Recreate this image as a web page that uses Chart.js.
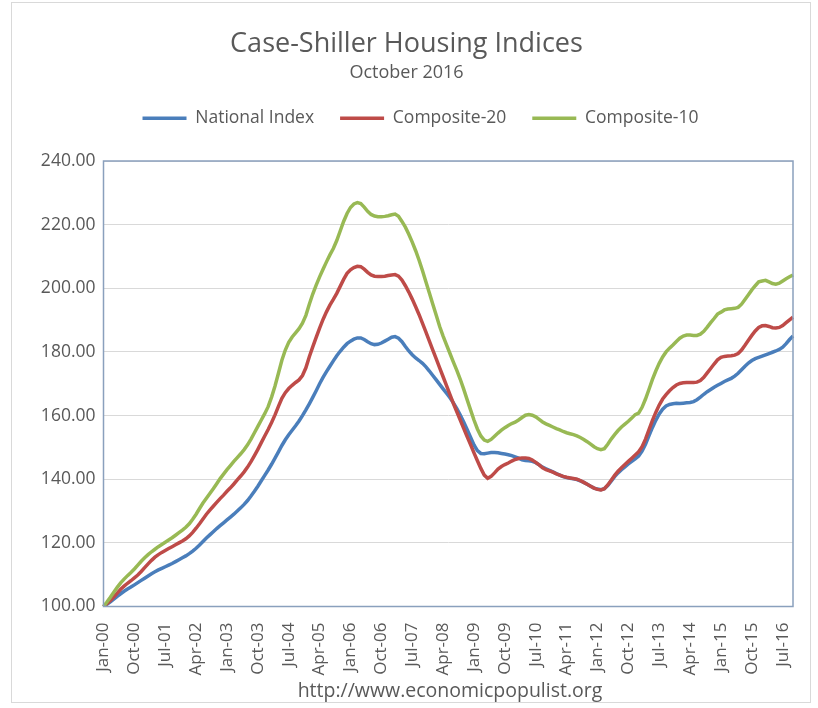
<!DOCTYPE html>
<html>
<head>
<meta charset="utf-8">
<script src="https://cdn.jsdelivr.net/npm/chart.js@4.4.1/dist/chart.umd.min.js"></script>
<style>
    body { margin: 0; background: #fff; }
    #wrap { position: relative; width: 818px; height: 708px; }
    #frame { position: absolute; left: 11px; top: 2px; width: 800px; height: 701px; border: 1px solid #d9d9d9; box-sizing: border-box; }
    #source { position: absolute; left: 250px; width: 400px; top: 680px; line-height: 20px; text-align: center;
              font-family: 'Open Sans', sans-serif; font-size: 19.5px; color: #595959; }
</style>
</head>
<body>
<div id="wrap">
    <div id="frame"></div>
    <canvas id="chart" width="818" height="708"></canvas>
    <div id="source">http://www.economicpopulist.org</div>
</div>
<script>
// monthly, Jan-00 .. Oct-16
const monthNames = ["Jan", "Feb", "Mar", "Apr", "May", "Jun", "Jul", "Aug", "Sep", "Oct", "Nov", "Dec"];
const years = ["00", "01", "02", "03", "04", "05", "06", "07", "08", "09", "10", "11", "12", "13", "14", "15", "16"];

const nationalIndex = [
    100.0, 100.7, 101.5, 102.3, 103.2, 104.0, 104.8, 105.5, 106.1, 106.8, 107.5, 108.2,
    108.9, 109.6, 110.3, 110.9, 111.5, 112.0, 112.5, 113.0, 113.5, 114.1, 114.7, 115.3,
    115.9, 116.6, 117.4, 118.3, 119.3, 120.4, 121.5, 122.5, 123.5, 124.5, 125.4, 126.3,
    127.2, 128.1, 129.0, 130.0, 131.0, 132.1, 133.3, 134.7, 136.2, 137.8, 139.5, 141.2,
    142.9, 144.7, 146.6, 148.6, 150.6, 152.4, 154.0, 155.4, 156.8, 158.3, 160.0, 161.8,
    163.7, 165.7, 167.8, 170.0, 172.0, 173.8, 175.5, 177.2, 178.8, 180.2, 181.5, 182.6,
    183.4, 184.0, 184.4, 184.4, 183.9, 183.2, 182.6, 182.3, 182.4, 182.8, 183.4, 184.0,
    184.6, 184.8, 184.3, 183.2, 181.7, 180.3, 179.1, 178.1, 177.3, 176.4, 175.3, 174.0,
    172.6, 171.2, 169.8, 168.4, 167.0, 165.6, 164.0, 162.2, 160.2, 158.0, 155.6, 153.2,
    150.8, 149.0, 148.1, 148.0, 148.2, 148.4, 148.4, 148.3, 148.1, 147.9, 147.7, 147.4,
    147.0, 146.6, 146.1, 145.9, 145.8, 145.6, 145.2, 144.5, 143.8, 143.3, 142.8, 142.3,
    141.8, 141.3, 140.8, 140.5, 140.3, 140.1, 139.9, 139.5, 139.0, 138.4, 137.8, 137.2,
    136.9, 136.7, 137.0, 138.0, 139.4, 140.8, 142.0, 143.0, 143.9, 144.8, 145.6, 146.4,
    147.3, 148.8, 151.0, 153.6, 156.2, 158.5, 160.5, 162.0, 163.0, 163.5, 163.7, 163.9,
    163.8, 163.9, 164.0, 164.1, 164.4, 165.0, 165.8, 166.7, 167.5, 168.2, 168.9, 169.5,
    170.1, 170.7, 171.2, 171.7, 172.4, 173.3, 174.4, 175.5, 176.5, 177.3, 177.9, 178.3,
    178.7, 179.1, 179.5, 179.9, 180.3, 180.8, 181.5, 182.6, 183.9, 185.0
];

const composite20 = [
    100.0, 100.9, 101.9, 103.0, 104.2, 105.4, 106.4, 107.3, 108.1, 109.0, 109.9, 111.0,
    112.2, 113.4, 114.5, 115.5, 116.3, 117.0, 117.6, 118.2, 118.8, 119.4, 120.0, 120.6,
    121.3, 122.2, 123.3, 124.6, 126.0, 127.5, 129.0, 130.3, 131.5, 132.7, 133.9, 135.0,
    136.2, 137.3, 138.5, 139.8, 141.0, 142.3, 143.8, 145.5, 147.4, 149.4, 151.5, 153.6,
    155.6, 157.8, 160.2, 162.9, 165.4, 167.2, 168.5, 169.5, 170.4, 171.2, 172.6, 175.0,
    178.5, 181.6, 184.6, 187.5, 190.2, 192.6, 194.7, 196.5, 198.4, 200.6, 202.8, 204.7,
    205.8, 206.5, 206.9, 206.8, 206.0, 205.0, 204.2, 203.8, 203.7, 203.7, 203.8, 204.0,
    204.2, 204.3, 203.8, 202.6, 200.8, 198.8, 196.6, 194.2, 191.7, 189.0, 186.2, 183.4,
    180.6, 177.8, 175.0, 172.2, 169.4, 166.6, 163.8, 161.2, 158.6, 156.0, 153.4, 150.9,
    148.3, 145.8, 143.4, 141.3, 140.3, 140.9, 142.0, 143.2, 144.0, 144.6, 145.1, 145.7,
    146.2, 146.5, 146.7, 146.7, 146.5, 146.0, 145.3, 144.5, 143.6, 143.0, 142.6, 142.2,
    141.7, 141.3, 140.9, 140.6, 140.4, 140.2, 140.0, 139.6, 139.0, 138.4, 137.8, 137.2,
    136.8, 136.6, 137.0, 138.2, 139.7, 141.2, 142.5, 143.6, 144.6, 145.6, 146.6, 147.6,
    148.6, 150.2, 152.6, 155.5, 158.4, 161.0, 163.3, 165.2, 166.6, 167.8, 168.8, 169.6,
    170.1, 170.3, 170.4, 170.4, 170.4, 170.5, 171.0, 172.0, 173.4, 174.8, 176.2, 177.5,
    178.3, 178.6, 178.7, 178.8, 179.0, 179.5, 180.6, 182.1, 183.7, 185.2, 186.6, 187.7,
    188.2, 188.3, 188.0, 187.6, 187.5, 187.7, 188.3, 189.2, 190.1, 190.9
];

const composite10 = [
    100.0, 101.4, 102.9, 104.5, 106.0, 107.4, 108.6, 109.7, 110.7, 111.8, 113.0, 114.2,
    115.3, 116.3, 117.2, 118.0, 118.8, 119.5, 120.2, 120.9, 121.6, 122.4, 123.2, 124.0,
    124.9, 126.0, 127.4, 129.0, 130.8, 132.5, 134.0, 135.5, 137.0, 138.6, 140.2, 141.6,
    143.0, 144.3, 145.6, 146.8, 148.0, 149.3, 150.8, 152.6, 154.6, 156.6, 158.6, 160.6,
    162.8, 165.8, 169.3, 173.3, 177.4, 180.6, 183.0, 184.7, 186.0, 187.3, 189.0, 191.5,
    195.0, 198.2, 201.0, 203.6, 206.0, 208.3, 210.5, 212.5, 215.0, 218.0, 221.0, 223.5,
    225.4, 226.5, 226.9, 226.6, 225.5, 224.2, 223.2, 222.7, 222.5, 222.5, 222.6, 222.8,
    223.1, 223.3, 222.6, 221.0, 219.2, 217.0, 214.5, 211.8, 208.8, 205.5, 202.0, 198.5,
    195.0, 191.5, 188.0, 185.0, 182.2, 179.5, 176.8, 174.2, 171.4, 168.3, 165.0, 161.8,
    158.6, 155.8, 153.6, 152.3, 151.9, 152.5, 153.5, 154.5, 155.4, 156.2, 156.9, 157.5,
    157.9, 158.6, 159.4, 160.1, 160.3, 160.1, 159.6, 158.8, 158.0, 157.4, 156.9, 156.4,
    155.9, 155.5, 155.0, 154.6, 154.3, 154.0, 153.6, 153.1, 152.5, 151.8, 151.0, 150.2,
    149.6, 149.3, 149.6, 151.0, 152.6, 154.0, 155.3, 156.4, 157.3, 158.2, 159.2, 160.3,
    160.8, 162.6, 165.2, 168.2, 171.3, 174.0, 176.4, 178.4, 180.0, 181.2, 182.2, 183.3,
    184.3, 185.0, 185.3, 185.3, 185.2, 185.2, 185.6, 186.5, 187.8, 189.2, 190.5, 191.9,
    192.5, 193.2, 193.5, 193.6, 193.7, 194.0, 195.0, 196.5, 198.0, 199.5, 200.8, 202.0,
    202.3, 202.5, 202.0, 201.5, 201.3, 201.6, 202.3, 203.0, 203.6, 204.2
];

const labels = [];
for (const y of years) {
    for (const m of monthNames) {
        if (labels.length < nationalIndex.length) labels.push(m + "-" + y);
    }
}

Chart.defaults.font.family = "'Open Sans', sans-serif";
Chart.defaults.color = "#595959";

// plot area border, like the excel frame
const plotFrame = {
    id: "plotFrame",
    afterDatasetsDraw(chart) {
        const a = chart.chartArea;
        const ctx = chart.ctx;
        ctx.save();
        ctx.strokeStyle = "#8aa0bd";
        ctx.lineWidth = 1.5;
        ctx.strokeRect(a.left, a.top, a.right - a.left, a.bottom - a.top);
        ctx.restore();
    }
};

// leave some room under the legend, and nudge it right a little
const legendGap = {
    id: "legendGap",
    beforeLayout(chart) {
        const legend = chart.legend;
        if (legend && !legend._gapPatched) {
            const fit = legend.fit;
            legend.fit = function() {
                fit.call(this);
                this.height += 24;
            };
            legend._gapPatched = true;
        }
    },
    afterLayout(chart) {
        if (chart.legend) {
            chart.legend.left += 14;
            chart.legend.right += 14;
        }
    }
};

new Chart(document.getElementById("chart"), {
    type: "line",
    data: {
        labels: labels,
        datasets: [
            { label: "National Index", data: nationalIndex, borderColor: "#4a7ebb", backgroundColor: "#4a7ebb", borderWidth: 3.5, order: 3 },
            { label: "Composite-20", data: composite20, borderColor: "#be4b48", backgroundColor: "#be4b48", borderWidth: 3.5, order: 2 },
            { label: "Composite-10", data: composite10, borderColor: "#98b954", backgroundColor: "#98b954", borderWidth: 3.5, order: 1 }
        ]
    },
    options: {
        responsive: false,
        animation: false,
        elements: {
            line: { tension: 0 },
            point: { radius: 0 }
        },
        layout: { padding: { left: 20, right: 25, top: 4, bottom: 0 } },
        plugins: {
            title: {
                display: true,
                text: "Case-Shiller Housing Indices",
                font: { size: 27, weight: "normal", lineHeight: 1 },
                color: "#595959",
                padding: { top: 26.5, bottom: 0 }
            },
            subtitle: {
                display: true,
                text: "October 2016",
                font: { size: 18, lineHeight: 1 },
                color: "#595959",
                padding: { top: 6.5, bottom: 1.5 }
            },
            legend: {
                labels: {
                    usePointStyle: true,
                    pointStyle: "line",
                    pointStyleWidth: 44,
                    boxHeight: 4,
                    padding: 26,
                    font: { size: 17.5 },
                    color: "#595959",
                    sort: (a, b) => a.datasetIndex - b.datasetIndex
                }
            },
            tooltip: { enabled: false }
        },
        scales: {
            x: {
                offset: false,
                grid: { display: false },
                border: { display: false },
                afterFit: function(scale) { scale.height = 101.5; },
                ticks: {
                    autoSkip: false,
                    maxRotation: 90,
                    minRotation: 90,
                    padding: 8,
                    font: { size: 17 },
                    callback: function(value, index) {
                        return index % 9 === 0 ? labels[index] : null;
                    }
                }
            },
            y: {
                min: 100,
                max: 240,
                grid: { color: "#d9d9d9", drawTicks: false },
                border: { display: false },
                afterFit: function(scale) { scale.width = 83.5; },
                ticks: {
                    stepSize: 20,
                    padding: 8,
                    font: { size: 17.5 },
                    callback: v => v.toFixed(2)
                }
            }
        }
    },
    plugins: [plotFrame, legendGap]
});
</script>
</body>
</html>
